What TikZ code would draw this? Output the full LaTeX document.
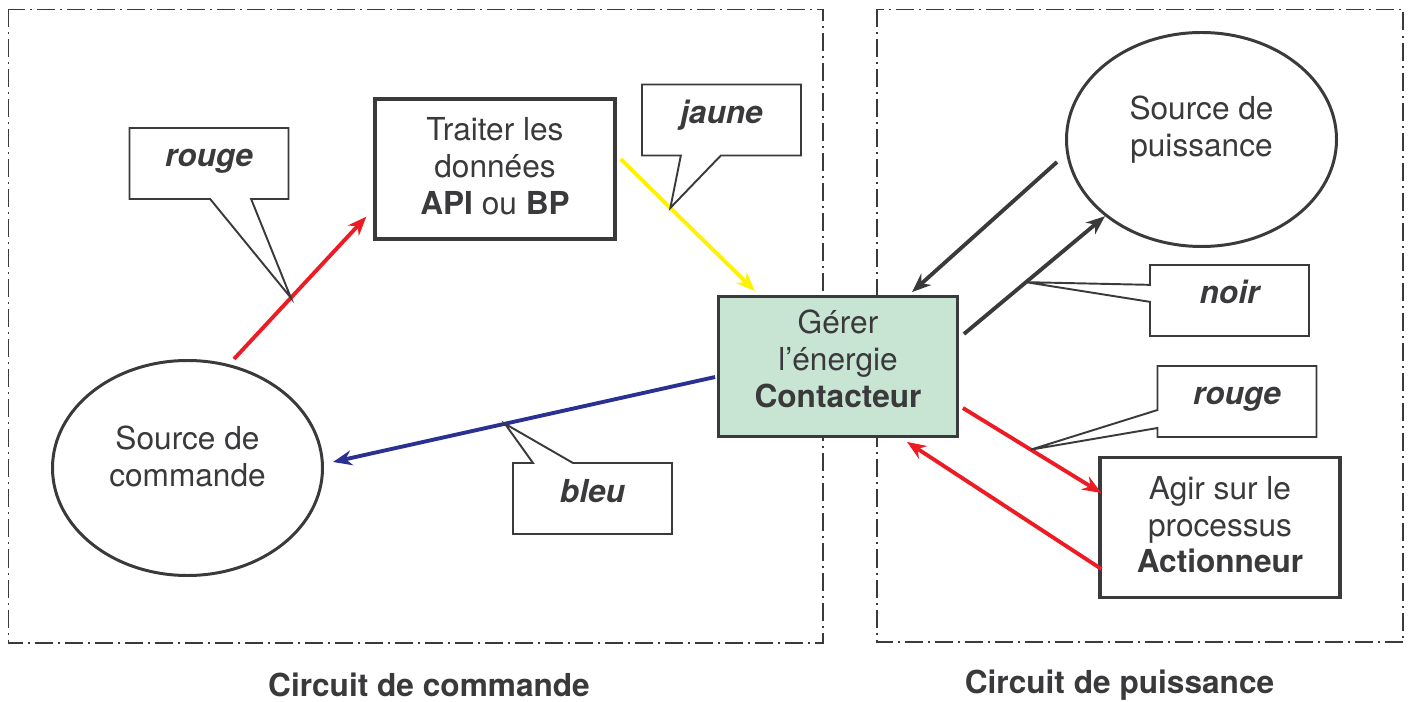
\documentclass[tikz,border=0pt]{standalone}
\usepackage{fontspec}
\setmainfont{TeX Gyre Heros}
\usetikzlibrary{arrows.meta,shapes.geometric,shapes.callouts}
\definecolor{trait}{RGB}{58,58,60}
\definecolor{rouge}{RGB}{237,28,36}
\definecolor{jaune}{RGB}{255,242,0}
\definecolor{bleu}{RGB}{43,49,146}
\definecolor{vertpale}{RGB}{200,228,211}
\tikzset{cadre/.style = {draw=trait, line width=1pt, dash pattern=on 3.6mm off 1mm on 0.4mm off 1mm},
         bloc/.style = {rectangle, draw=trait, line width=1.9pt, minimum width=4.8cm, minimum height=2.8cm,
                        align=center, text=trait, text depth=0.12cm, font=\fontsize{18}{21}\selectfont},
         source/.style = {ellipse, draw=trait, line width=1.7pt, minimum width=5.4cm, minimum height=4.3cm},
         txt/.style = {align=center, text=trait, font=\fontsize{18}{21}\selectfont},
         bulle/.style = {rectangle callout, draw=trait, line width=1.1pt, minimum width=3.18cm, minimum height=1.42cm,
                         text height=0.47cm, text depth=0.33cm, text=trait,
                         font=\fontsize{18}{21}\selectfont\bfseries\itshape},
         fleche/.style = {-{Stealth[length=3.8mm,width=3mm]}, line width=2.2pt}}

\begin{document}
\begin{tikzpicture}
  \useasboundingbox (0,0) rectangle (28.18,-14.04);
  % les deux circuits
  \draw[cadre] (0.17,-0.19) rectangle (16.46,-12.86);
  \draw[cadre] (17.54,-0.19) rectangle (28.06,-12.84);
  \node[txt, font=\fontsize{18}{21}\selectfont\bfseries] (lblcmd) at (8.58,-13.7) {Circuit de commande};
  \node[txt, font=\fontsize{18}{21}\selectfont\bfseries] (lblpui) at (22.39,-13.7) {Circuit de puissance};

  % blocs
  \node[bloc] (traiter) at (9.9,-3.38) {Traiter les\\données\\\textbf{API} ou \textbf{BP}};
  \node[bloc, fill=vertpale, minimum width=4.77cm, minimum height=2.79cm, text depth=0.3cm] (gerer) at (16.76,-7.33)
       {Gérer\\l’énergie\\\textbf{Contacteur}};
  \node[bloc, minimum height=2.79cm] (agir) at (24.4,-10.55) {Agir sur le\\processus\\\textbf{Actionneur}};
  \node[source] (srccmd) at (3.75,-9.36) {};
  \node[txt] (srccmdtxt) at ([yshift=0.23cm]srccmd.center) {Source de\\commande};
  \node[source, minimum height=4.28cm] (srcpui) at (24.03,-2.79) {};
  \node[txt] (srcpuitxt) at ([yshift=0.19cm]srcpui.center) {Source de\\puissance};

  % liaisons
  \draw[fleche, rouge] ([xshift=0.93cm]srccmd.north) -- ([xshift=-0.14cm,yshift=0.48cm]traiter.south west)
       coordinate[pos=0.43] (prougeA);
  \draw[fleche, jaune] ([xshift=0.08cm,yshift=0.2cm]traiter.east) -- ([xshift=-1.66cm,yshift=0.08cm]gerer.north)
       coordinate[pos=0.37] (pjaune);
  \draw[fleche, bleu] ([xshift=-0.04cm,yshift=-0.21cm]gerer.west) -- ([xshift=0.18cm,yshift=0.12cm]srccmd.east)
       coordinate[pos=0.55] (pbleu);
  \draw[fleche, trait] ([xshift=-0.16cm,yshift=-0.45cm]srcpui.west) -- ([xshift=1.48cm,yshift=0.06cm]gerer.north);
  \draw[fleche, trait] ([xshift=0.1cm,yshift=0.65cm]gerer.east) -- (srcpui.south west)
       coordinate[pos=0.44] (pnoir);
  \draw[fleche, rouge] ([xshift=0.08cm,yshift=-0.83cm]gerer.east) -- ([xshift=0.06cm,yshift=0.69cm]agir.west)
       coordinate[pos=0.49] (prougeB);
  \draw[fleche, rouge] ([xshift=0.06cm,yshift=-0.83cm]agir.west) -- ([xshift=1.38cm,yshift=-0.08cm]gerer.south);

  % bulles
  \node[bulle, callout absolute pointer={(prougeA)}, callout pointer width=0.82cm] (brougeA) at (4.18,-3.27) {rouge};
  \node[bulle, callout absolute pointer={(pjaune)}, callout pointer width=0.8cm] (bjaune) at (14.43,-2.4) {jaune};
  \node[bulle, callout absolute pointer={(pbleu)}, callout pointer width=0.8cm] (bbleu) at (11.85,-9.97) {bleu};
  \node[bulle, callout absolute pointer={(pnoir)}, callout pointer width=0.34cm] (bnoir) at (24.59,-6.01) {noir};
  \node[bulle, callout absolute pointer={(prougeB)}, callout pointer width=0.36cm] (brougeB) at (24.74,-8.03) {rouge};
\end{tikzpicture}
\end{document}
